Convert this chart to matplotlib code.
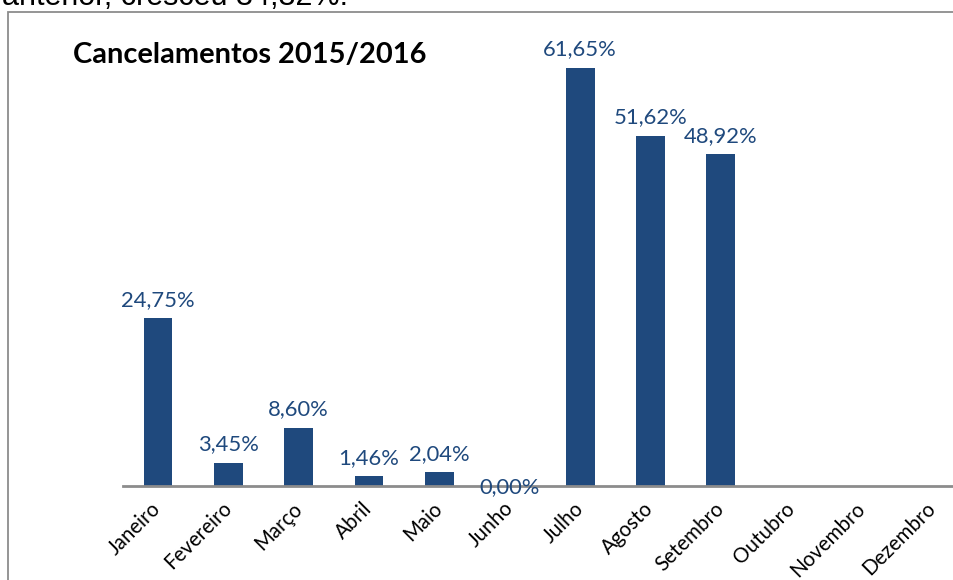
import matplotlib.pyplot as plt
import matplotlib.patches as mpatches
import numpy as np

# ── data ──────────────────────────────────────────────────────────────────────
months = ["Janeiro", "Fevereiro", "Março", "Abril", "Maio", "Junho",
          "Julho", "Agosto", "Setembro", "Outubro", "Novembro", "Dezembro"]
values = [24.75, 3.45, 8.60, 1.46, 2.04, 0.00,
          61.65, 51.62, 48.92, None, None, None]
title = "Cancelamentos 2015/2016"
above_text = "anterior, cresceu 34,32%."

# ── style ─────────────────────────────────────────────────────────────────────
BAR = "#1f497d"
AXIS = "#8c8c8c"
BORDER = "#8c8c8c"
FONT = "Lato"

W, H = 954, 580
fig = plt.figure(figsize=(W / 100, H / 100), dpi=100)
fig.patch.set_facecolor("white")

# chart frame (runs off the right and bottom edge)
frame = mpatches.Rectangle((8 / W, -0.2), 1.2, 1.2 - 12 / H,
                           transform=fig.transFigure, fill=False,
                           edgecolor=BORDER, lw=1.3, clip_on=False)
fig.add_artist(frame)

# body text above the chart, mostly clipped by the top edge
fig.text(348 / W, 1 - 5 / H, above_text, ha="right", va="baseline",
         fontsize=22, family="Liberation Sans", color="black")

ax = fig.add_axes([122.8 / W, 94 / H, 844.3 / W, 474.6 / H])
ax.set_facecolor("none")

x = np.arange(len(months))
plot_vals = [v if v is not None else 0 for v in values]
bars = ax.bar(x, plot_vals, width=0.41, color=BAR)
for b, v in zip(bars, values):
    if v is None:
        b.set_visible(False)

ax.set_xlim(-0.5, 11.5)
ax.set_ylim(0, 70)

for s in ["top", "left", "right"]:
    ax.spines[s].set_visible(False)
ax.spines["bottom"].set_color(AXIS)
ax.spines["bottom"].set_linewidth(2)
ax.spines["bottom"].set_clip_on(False)
ax.set_yticks([])

ax.set_xticks(x)
ax.set_xticklabels(months, rotation=45, ha="right", va="center",
                   rotation_mode="anchor", fontsize=14.8, family=FONT,
                   color="black")
ax.tick_params(axis="x", length=0, pad=14)

# data labels
for xi, v in zip(x, values):
    if v is None:
        continue
    off = 9 if v > 0 else -5
    ax.annotate(f"{v:.2f}%".replace(".", ","), (xi, v),
                xytext=(0, off), textcoords="offset points",
                ha="center", va="baseline", fontsize=15.8, family=FONT,
                color=BAR, annotation_clip=False)

fig.text(73 / W, 1 - 63 / H, title, ha="left", va="baseline",
         fontsize=20.9, fontweight="bold", family=FONT, color="black")

plt.savefig("out.png", dpi=100, facecolor=fig.get_facecolor())
